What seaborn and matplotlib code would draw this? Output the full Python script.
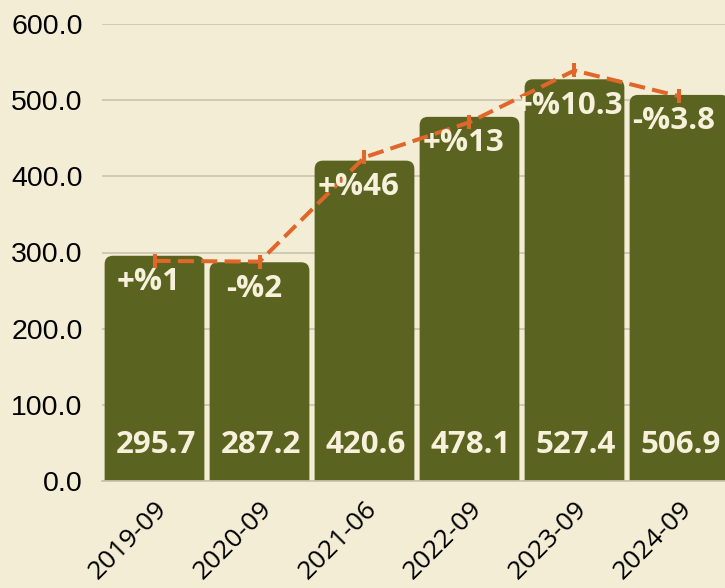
"""Bar chart of yearly values with dashed change line."""

import matplotlib
import matplotlib.pyplot as plt
import numpy as np
import pandas as pd
import seaborn as sns
from matplotlib.patches import FancyBboxPatch

matplotlib.use("Agg")

# Data
periods = ["2019-09", "2020-09", "2021-06", "2022-09", "2023-09", "2024-09"]
values = [295.7, 287.2, 420.6, 478.1, 527.4, 506.9]
change_labels = ["+%1", "-%2", "+%46", "+%13", "+%10.3", "-%3.8"]
trend_values = [289, 288, 425, 471, 539, 505]
y_ticks = [0, 100, 200, 300, 400, 500, 600]

BG = "#F3EDD5"
BAR = "#5A6420"
LINE = "#E0662A"
TEXT_LIGHT = "#F7F1DC"

sns.set_theme(style="white")
plt.rcParams["font.family"] = ["DejaVu Sans"]

df = pd.DataFrame({"period": periods, "value": values})

fig = plt.figure(figsize=(7.25, 5.88), dpi=100, facecolor=BG)
ax = fig.add_axes([102 / 725, 107 / 588, 630 / 725, 457 / 588])
ax.set_facecolor(BG)

sns.barplot(data=df, x="period", y="value", color=BAR, width=0.95, saturation=1, ax=ax, zorder=2)

# swap the plain rectangles for ones with rounded top corners
for patch in list(ax.patches):
    x0, w, h = patch.get_x(), patch.get_width(), patch.get_height()
    r = 0.08
    aspect = 137.0
    rounded = FancyBboxPatch(
        (x0, -r * aspect),
        w,
        h + r * aspect,
        boxstyle=f"round,pad=0,rounding_size={r}",
        mutation_aspect=aspect,
        facecolor=BAR,
        edgecolor="none",
        zorder=2,
    )
    patch.remove()
    ax.add_patch(rounded)

xs = np.arange(len(periods))
ax.plot(
    xs,
    trend_values,
    color=LINE,
    lw=2.9,
    linestyle=(0, (4, 1.8)),
    marker="|",
    markersize=10,
    markeredgewidth=2.9,
    zorder=4,
)

for i, (v, lab) in enumerate(zip(values, change_labels)):
    ax.annotate(
        f"{v:.1f}",
        (i, 0),
        xytext=(1, 26),
        textcoords="offset points",
        ha="center",
        va="center",
        color=TEXT_LIGHT,
        fontsize=22.5,
        fontweight="bold",
        family="Open Sans",
        zorder=5,
    )
    ax.annotate(
        lab,
        (i, v),
        xytext=(-4, -19),
        textcoords="offset points",
        ha="center",
        va="center",
        color=TEXT_LIGHT,
        fontsize=22.5,
        fontweight="bold",
        family="Open Sans",
        zorder=5,
    )

ax.set_ylim(0, 600)
ax.set_xlim(-0.5, len(periods) - 0.5)
ax.set_yticks(y_ticks)
ax.set_yticklabels([f"{t:.1f}" for t in y_ticks], family="Liberation Sans", fontsize=20.5)
ax.set_xticks(xs)
ax.set_xticklabels(
    periods, rotation=45, ha="right", rotation_mode="anchor", fontsize=19, family="Open Sans"
)
ax.tick_params(axis="both", length=0, colors="black")
ax.tick_params(axis="y", pad=14)
ax.tick_params(axis="x", pad=11)
ax.set_xlabel("")
ax.set_ylabel("")

ax.yaxis.grid(True, color="#C9C3AC", lw=1.2, zorder=0)
ax.set_axisbelow(True)
for side in ["left", "right", "top"]:
    ax.spines[side].set_visible(False)
ax.spines["bottom"].set_color("#C9C3AC")

fig.savefig("out.png", dpi=100, facecolor=BG)
plt.close(fig)
